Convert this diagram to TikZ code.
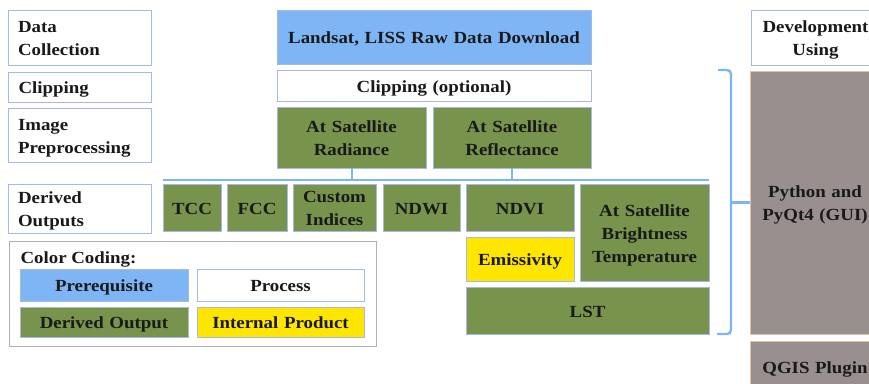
\documentclass[tikz,border=0pt]{standalone}
\usepackage{fontspec}
\setmainfont{Liberation Serif}[FakeStretch=1.11]
\definecolor{prereq}{RGB}{126,182,245}
\definecolor{derived}{RGB}{119,147,76}
\definecolor{internal}{RGB}{255,230,0}
\definecolor{toolgrey}{RGB}{152,143,142}
\definecolor{edge}{RGB}{165,185,230}
\definecolor{wire}{RGB}{125,180,245}
% strut so that the caps sit in the middle of each box
\newcommand\capstrut{\rule[-4pt]{0pt}{21.5pt}}
\tikzset{
  box/.style={draw=edge,line width=.8pt,inner sep=0pt,align=center,text=black!90,
    font=\bfseries\fontsize{17}{23}\selectfont,
    execute at begin node=\capstrut,execute at end node=\capstrut},
  boxw/.style={minimum width=#1,text width=#1-6},
  pre/.style={box,fill=prereq},
  proc/.style={box,fill=white},
  der/.style={box,fill=derived},
  intl/.style={box,fill=internal},
  devbox/.style={box,draw={rgb,255:red,225;green,195;blue,160},fill=toolgrey},
  tag/.style={box,fill=white,align=left,text width=123pt,minimum width=143pt},
  bus/.style={wire,line width=2pt}
}
\begin{document}
\begin{tikzpicture}[x=1pt,y=-1pt]
\clip (0,0) rectangle (869,383);
% stage labels on the left
\node[tag,minimum height=55] (datacol) at (79.5,37.5) {Data\\Collection};
\node[tag,minimum height=30] (cliplab) at (80,87) {Clipping};
\node[tag,minimum height=54] (imgpre) at (79.5,135) {Image\\Preprocessing};
\node[tag,minimum height=49] (derout) at (79.5,208.5) {Derived\\Outputs};
% colour key
\node[draw=black!30,line width=.8pt,minimum width=367,minimum height=105] (legend) at (192.5,293.5) {};
\node[anchor=base west,text=black!90,font=\bfseries\fontsize{17}{23}\selectfont] (keytitle) at (17,263) {Color Coding:};
\node[pre,boxw=168,minimum height=32] (keypre) at (104,285) {Prerequisite};
\node[proc,boxw=167,minimum height=32] (keyproc) at (280.5,285) {Process};
\node[der,boxw=168,minimum height=30] (keyder) at (104,322) {Derived Output};
\node[intl,boxw=167,minimum height=30] (keyint) at (280.5,322) {Internal Product};
% main chain
\node[pre,boxw=314,minimum height=54] (landsat) at (434,37) {Landsat, LISS Raw Data Download};
\node[proc,boxw=314,minimum height=31] (clipopt) at (434,85.5) {Clipping (optional)};
\node[der,boxw=149,minimum height=61] (radiance) at (351.5,137.5) {At Satellite\\Radiance};
\node[der,boxw=158,minimum height=61] (reflect) at (512,137.5) {At Satellite\\Reflectance};
\coordinate (busL) at (163,180);
\coordinate (busR) at (709,180);
\draw[bus] (busL) -- (busR);
\draw[bus] (radiance.south) -- (radiance.south |- busL);
\draw[bus] (reflect.south) -- (reflect.south |- busL);
% derived products
\foreach \n/\cx/\w/\t in {tcc/192/58/TCC,fcc/257/60/FCC,custom/334.5/83/{Custom\\Indices},
    ndwi/421.5/77/NDWI,ndvi/520/108/NDVI}
  \node[der,boxw=\w,minimum height=47] (\n) at (\cx,207.5) {\t};
\node[der,boxw=129,minimum height=97] (bright) at (644.5,232.5) {At Satellite\\Brightness\\Temperature};
\node[intl,boxw=108,minimum height=44] (emis) at (520,259) {Emissivity};
\node[der,boxw=243,minimum height=47] (lst) at (587.5,310.5) {LST};
% tools column
\node[proc,boxw=129,minimum height=55] (devusing) at (815.5,37.5) {Development\\Using};
\node[devbox,boxw=130,minimum height=263] (python) at (815,202.5) {Python and\\PyQt4 (GUI)};
\node[devbox,boxw=130,minimum height=52] (qgis) at (815,367) {QGIS Plugin};
\coordinate (brace) at (731,202.5);
\draw[wire,line width=2.4pt,rounded corners=4pt] (718,70) -- (731,70) -- (731,334) -- (717,334);
\draw[wire,line width=2.4pt] (brace) -- (python.west);
\end{tikzpicture}
\end{document}
